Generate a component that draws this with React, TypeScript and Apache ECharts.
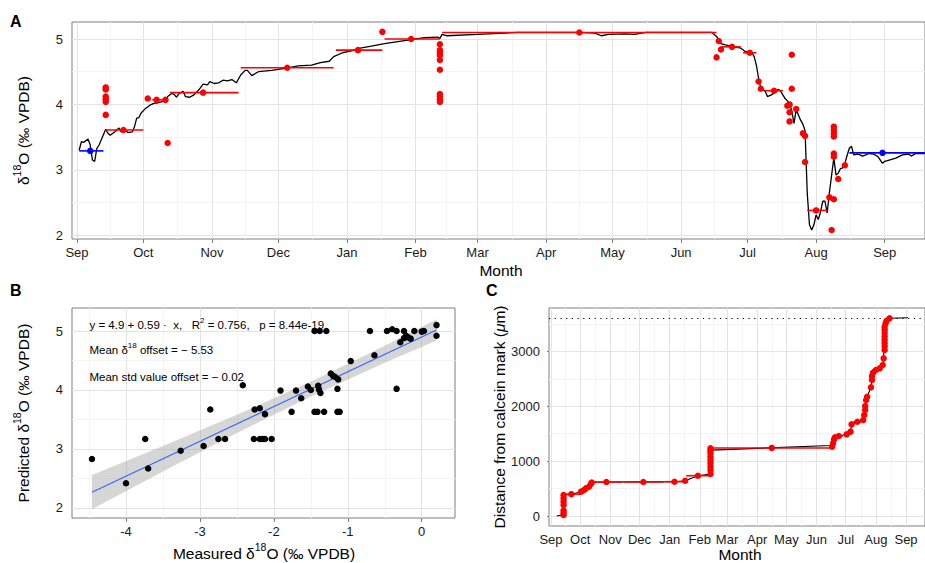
import React, { useEffect, useRef } from 'react';
import * as echarts from 'echarts';

// ---------- Panel A: predicted daily δ18O and measured samples ----------
const predictedD18O: [string, number][] = [
  ['2012-09-02', 3.30], ['2012-09-03', 3.43], ['2012-09-04', 3.42], ['2012-09-06', 3.47], ['2012-09-07', 3.38],
  ['2012-09-08', 3.15], ['2012-09-09', 3.13], ['2012-09-10', 3.33], ['2012-09-11', 3.38], ['2012-09-12', 3.46],
  ['2012-09-14', 3.62], ['2012-09-15', 3.56], ['2012-09-16', 3.53], ['2012-09-18', 3.58], ['2012-09-20', 3.64],
  ['2012-09-21', 3.58], ['2012-09-23', 3.60], ['2012-09-24', 3.57], ['2012-09-26', 3.58], ['2012-09-27', 3.66],
  ['2012-09-28', 3.79], ['2012-09-29', 3.80], ['2012-09-30', 3.87], ['2012-10-02', 3.94], ['2012-10-03', 3.96],
  ['2012-10-04', 3.99], ['2012-10-06', 4.02], ['2012-10-07', 4.02], ['2012-10-09', 4.04], ['2012-10-11', 4.05],
  ['2012-10-12', 4.12], ['2012-10-14', 4.17], ['2012-10-15', 4.15], ['2012-10-16', 4.11], ['2012-10-17', 4.16],
  ['2012-10-19', 4.20], ['2012-10-20', 4.12], ['2012-10-22', 4.11], ['2012-10-24', 4.15], ['2012-10-26', 4.22],
  ['2012-10-28', 4.31], ['2012-10-30', 4.30], ['2012-10-31', 4.35], ['2012-11-02', 4.32], ['2012-11-04', 4.33],
  ['2012-11-06', 4.37], ['2012-11-08', 4.36], ['2012-11-10', 4.38], ['2012-11-12', 4.33], ['2012-11-14', 4.45],
  ['2012-11-16', 4.52], ['2012-11-17', 4.52], ['2012-11-19', 4.44], ['2012-11-22', 4.50], ['2012-11-28', 4.52],
  ['2012-12-04', 4.55], ['2012-12-10', 4.59], ['2012-12-16', 4.60], ['2012-12-20', 4.64], ['2012-12-24', 4.66],
  ['2012-12-26', 4.73], ['2012-12-30', 4.79], ['2013-01-03', 4.82], ['2013-01-07', 4.86], ['2013-01-12', 4.89],
  ['2013-01-18', 4.93], ['2013-01-24', 4.96], ['2013-01-30', 4.99], ['2013-02-05', 5.02], ['2013-02-11', 5.03],
  ['2013-02-12', 5.01], ['2013-02-13', 5.07], ['2013-02-15', 5.05], ['2013-03-01', 5.07], ['2013-03-19', 5.10],
  ['2013-04-03', 5.10], ['2013-04-16', 5.10], ['2013-04-23', 5.09], ['2013-04-26', 5.05], ['2013-04-29', 5.07],
  ['2013-05-07', 5.08], ['2013-05-11', 5.07], ['2013-05-16', 5.10], ['2013-05-31', 5.10], ['2013-06-15', 5.10],
  ['2013-06-17', 5.04], ['2013-06-19', 4.93], ['2013-06-21', 4.91], ['2013-06-25', 4.88], ['2013-06-28', 4.86],
  ['2013-06-30', 4.81], ['2013-07-02', 4.78], ['2013-07-03', 4.79], ['2013-07-04', 4.73], ['2013-07-05', 4.60],
  ['2013-07-06', 4.40], ['2013-07-07', 4.25], ['2013-07-09', 4.20], ['2013-07-10', 4.12], ['2013-07-12', 4.15],
  ['2013-07-15', 4.23], ['2013-07-16', 4.20], ['2013-07-18', 4.09], ['2013-07-20', 4.02], ['2013-07-21', 3.90],
  ['2013-07-22', 3.71], ['2013-07-23', 3.92], ['2013-07-25', 3.76], ['2013-07-26', 3.70], ['2013-07-27', 3.60],
  ['2013-07-28', 2.64], ['2013-07-29', 2.16], ['2013-07-30', 2.08], ['2013-07-31', 2.16], ['2013-08-01', 2.31],
  ['2013-08-02', 2.24], ['2013-08-03', 2.36], ['2013-08-04', 2.52], ['2013-08-05', 2.52], ['2013-08-06', 2.34],
  ['2013-08-07', 2.65], ['2013-08-08', 2.92], ['2013-08-09', 3.18], ['2013-08-10', 2.92], ['2013-08-11', 2.95],
  ['2013-08-12', 3.02], ['2013-08-13', 3.03], ['2013-08-14', 3.10], ['2013-08-15', 3.22], ['2013-08-16', 3.33],
  ['2013-08-17', 3.36], ['2013-08-18', 3.23], ['2013-08-20', 3.24], ['2013-08-22', 3.21], ['2013-08-25', 3.25],
  ['2013-08-27', 3.24], ['2013-08-29', 3.20], ['2013-08-31', 3.10], ['2013-09-01', 3.13], ['2013-09-03', 3.15],
  ['2013-09-06', 3.18], ['2013-09-09', 3.23], ['2013-09-12', 3.24], ['2013-09-13', 3.21], ['2013-09-15', 3.25],
  ['2013-09-19', 3.25],
];

// Samples that integrate a date range: start, end, assigned date, δ18O, distance from calcein mark
const rangeStart = ['2012-09-14', '2012-10-05', '2012-10-13', '2012-11-14', '2012-12-27', '2013-01-18',
  '2013-02-13', '2013-06-19', '2013-06-29', '2013-07-09', '2013-07-22', '2013-07-28'];
const rangeEnd = ['2012-10-01', '2012-10-11', '2012-11-13', '2012-12-26', '2013-01-17', '2013-02-12',
  '2013-06-17', '2013-06-28', '2013-07-05', '2013-07-17', '2013-07-24', '2013-08-06'];
const rangeDate = ['2012-09-22', '2012-10-07', '2012-10-28', '2012-12-05', '2013-01-06', '2013-01-30',
  '2013-04-16', '2013-06-24', '2013-07-02', '2013-07-13', '2013-07-23', '2013-08-01'];
const rangeD18O = [3.61, 4.07, 4.18, 4.56, 4.83, 5.00, 5.10, 4.88, 4.79, 4.21, 3.93, 2.38];
const rangeDistance = [398, 504, 619, 619, 625, 734, 1240, 1457, 1488, 1718, 2173, 2659];

// Reference periods (blue)
const refStart = ['2012-09-02', '2013-08-16'];
const refEnd = ['2012-09-13', '2013-09-20'];
const refDate = ['2012-09-07', '2013-08-31'];
const refD18O = [3.29, 3.26];

// Individually dated samples
const isotopeSamples: [string, number][] = [
  ['2012-09-14', 4.26], ['2012-09-14', 4.23], ['2012-09-14', 4.12], ['2012-09-14', 4.08], ['2012-09-14', 4.04],
  ['2012-09-14', 3.84], ['2012-10-03', 4.09], ['2012-10-11', 4.07], ['2012-10-12', 3.41], ['2013-01-17', 5.11],
  ['2013-02-12', 4.92], ['2013-02-12', 4.83], ['2013-02-12', 4.79], ['2013-02-12', 4.75], ['2013-02-12', 4.68],
  ['2013-02-12', 4.53], ['2013-02-12', 4.16], ['2013-02-12', 4.12], ['2013-02-12', 4.08], ['2013-02-12', 4.04],
  ['2013-06-17', 4.72], ['2013-06-18', 4.97], ['2013-06-19', 4.84], ['2013-07-06', 4.35], ['2013-07-07', 4.24],
  ['2013-07-19', 3.98], ['2013-07-20', 4.00], ['2013-07-20', 3.88], ['2013-07-20', 3.74], ['2013-07-21', 4.76],
  ['2013-07-21', 4.24], ['2013-07-26', 3.56], ['2013-07-27', 3.52], ['2013-07-27', 3.12], ['2013-08-07', 2.58],
  ['2013-08-08', 2.08], ['2013-08-09', 2.55], ['2013-08-09', 3.66], ['2013-08-09', 3.61], ['2013-08-09', 3.56],
  ['2013-08-09', 3.51], ['2013-08-09', 3.25], ['2013-08-09', 3.20], ['2013-08-11', 2.86], ['2013-08-14', 3.07],
];

// ---------- Panel B: measured vs predicted ----------
const measuredB = [-4.46, -4.00, -3.74, -3.70, -3.26, -2.95, -2.86, -2.75, -2.66, -2.42, -2.27, -2.26, -2.19,
  -2.19, -2.15, -2.12, -2.12, -2.03, -1.91, -1.76, -1.70, -1.63, -1.54, -1.50, -1.45, -1.38, -1.29, -1.45, -1.41,
  -1.40, -1.39, -1.37, -1.32, -1.23, -1.20, -1.17, -1.13, -1.14, -1.14, -1.11, -0.96, -0.70, -0.64, -0.47, -0.40,
  -0.34, -0.34, -0.29, -0.24, -0.24, -0.21, -0.18, -0.15, -0.10, 0.00, 0.03, 0.20, 0.20];
const predictedB = [2.83, 2.42, 3.17, 2.67, 2.97, 3.05, 3.67, 3.17, 3.17, 4.08, 3.17, 3.67, 3.69, 3.17, 3.17,
  3.17, 3.59, 3.17, 3.99, 3.63, 3.99, 3.86, 4.06, 4.00, 5.00, 5.00, 5.00, 3.63, 3.63, 4.07, 4.01, 3.95, 3.63,
  4.28, 4.24, 4.22, 4.18, 4.02, 3.63, 3.63, 4.49, 5.00, 4.59, 5.00, 5.03, 5.00, 4.02, 4.81, 5.00, 4.88, 4.92,
  4.89, 4.87, 5.00, 4.99, 5.00, 5.10, 4.92];
const fitIntercept = 4.9;
const fitSlope = 0.59;
const bandX = [-4.46, -3.5, -2.5, -1.5, -0.5, 0.2];
const bandLower = [1.98, 2.62, 3.27, 3.89, 4.46, 4.84];
const bandUpper = [2.56, 3.05, 3.58, 4.14, 4.75, 5.20];

// ---------- Panel C: distance from calcein mark ----------
const growthModel: [string, number][] = [
  ['2012-09-07', 0], ['2012-09-13', 20], ['2012-09-14', 380], ['2012-09-22', 398], ['2012-10-02', 443],
  ['2012-10-05', 474], ['2012-10-08', 504], ['2012-10-10', 534], ['2012-10-12', 585], ['2012-10-14', 615],
  ['2012-10-28', 619], ['2012-12-05', 621], ['2013-01-06', 625], ['2013-01-17', 643], ['2013-01-30', 734],
  ['2013-02-12', 765], ['2013-02-13', 1200], ['2013-06-16', 1285], ['2013-06-18', 1324], ['2013-06-20', 1433],
  ['2013-06-25', 1457], ['2013-07-02', 1488], ['2013-07-06', 1536], ['2013-07-07', 1670], ['2013-07-13', 1718],
  ['2013-07-19', 1749], ['2013-07-22', 2113], ['2013-07-23', 2173], ['2013-07-27', 2344], ['2013-07-29', 2610],
  ['2013-08-01', 2659], ['2013-08-05', 2690], ['2013-08-08', 2750], ['2013-08-09', 2872], ['2013-08-10', 3448],
  ['2013-08-11', 3510], ['2013-08-12', 3557], ['2013-08-15', 3601], ['2013-09-03', 3612],
];
const distanceSamples: [string, number][] = [
  ['2012-09-14', 20], ['2012-09-14', 60], ['2012-09-14', 100], ['2012-09-14', 200], ['2012-09-14', 260],
  ['2012-09-14', 320], ['2012-09-14', 380], ['2012-10-02', 443], ['2012-10-05', 474], ['2012-10-10', 534],
  ['2012-10-12', 585], ['2012-10-13', 610], ['2013-01-17', 643],
  ['2013-02-12', 765], ['2013-02-12', 838], ['2013-02-12', 898], ['2013-02-12', 960], ['2013-02-12', 1020],
  ['2013-02-12', 1080], ['2013-02-12', 1142], ['2013-02-12', 1190], ['2013-02-12', 1233],
  ['2013-06-17', 1262], ['2013-06-18', 1324], ['2013-06-19', 1397], ['2013-06-20', 1433], ['2013-07-06', 1536],
  ['2013-07-07', 1670], ['2013-07-19', 1749], ['2013-07-20', 1840], ['2013-07-21', 1931], ['2013-07-21', 2004],
  ['2013-07-22', 2113], ['2013-07-27', 2344], ['2013-07-28', 2477], ['2013-07-28', 2550], ['2013-07-29', 2610],
  ['2013-08-05', 2690], ['2013-08-08', 2750], ['2013-08-09', 2872],
  ['2013-08-10', 3024], ['2013-08-10', 3090], ['2013-08-10', 3150], ['2013-08-10', 3210], ['2013-08-10', 3270],
  ['2013-08-10', 3330], ['2013-08-10', 3390], ['2013-08-10', 3448], ['2013-08-11', 3510], ['2013-08-12', 3557],
  ['2013-08-15', 3601],
];
const maxDistance = 3600;

// ---------- Axis breaks ----------
const monthStarts = ['2012-09-01', '2012-10-01', '2012-11-01', '2012-12-01', '2013-01-01', '2013-02-01',
  '2013-03-01', '2013-04-01', '2013-05-01', '2013-06-01', '2013-07-01', '2013-08-01', '2013-09-01'];
const monthNames = ['Sep', 'Oct', 'Nov', 'Dec', 'Jan', 'Feb', 'Mar', 'Apr', 'May', 'Jun', 'Jul', 'Aug', 'Sep'];
const d18OTicks = [2, 3, 4, 5];
const d18OMinor = [2.5, 3.5, 4.5];
const measuredTicks = [-4, -3, -2, -1, 0];
const measuredMinor = [-4.5, -3.5, -2.5, -1.5, -0.5];
const distanceTicks = [0, 1000, 2000, 3000];
const distanceMinor = [500, 1500, 2500, 3500];

const FONT = '"Liberation Sans", Arial, Helvetica, sans-serif';
const START = Date.UTC(2012, 8, 1);
const dayOf = (d: string) => Math.round((Date.parse(d + 'T00:00:00Z') - START) / 86400000);
const monthDays = monthStarts.map(dayOf);
const midMonthDays = monthDays.slice(1).map((d, i) => (d + monthDays[i]) / 2);
const monthLabel = (v: number) => {
  const i = monthDays.indexOf(Math.round(v));
  return i < 0 ? '' : monthNames[i];
};

const MAJOR = '#e3e3e3';
const MINOR = '#f4f4f4';
const BORDER = '#7f7f7f';
const TICK_TEXT = '#1a1a1a';

function gridLines(idx: number, vMaj: number[], vMin: number[], hMaj: number[], hMin: number[], extra: any[] = []) {
  const v = (vals: number[], color: string) => vals.map((x) => ({ xAxis: x, lineStyle: { color, width: 1, type: 'solid' } }));
  const h = (vals: number[], color: string) => vals.map((y) => ({ yAxis: y, lineStyle: { color, width: 1, type: 'solid' } }));
  return {
    type: 'line', xAxisIndex: idx, yAxisIndex: idx, data: [], silent: true, z: 1,
    markLine: {
      silent: true, symbol: ['none', 'none'], animation: false, label: { show: false },
      emphasis: { disabled: true },
      data: [...v(vMin, MINOR), ...h(hMin, MINOR), ...v(vMaj, MAJOR), ...h(hMaj, MAJOR), ...extra],
    },
  };
}

function segmentSeries(idx: number, starts: string[], ends: string[], values: number[], color: string, z: number) {
  return {
    type: 'custom', xAxisIndex: idx, yAxisIndex: idx, z, silent: true,
    data: starts.map((s, i) => [dayOf(s), dayOf(ends[i]), values[i]]),
    encode: { x: [0, 1], y: 2 },
    renderItem: (_p: any, api: any) => {
      const a = api.coord([api.value(0), api.value(2)]);
      const b = api.coord([api.value(1), api.value(2)]);
      return { type: 'line', shape: { x1: a[0], y1: a[1], x2: b[0], y2: b[1] }, style: { stroke: color, lineWidth: 1.6 } };
    },
  };
}

function timeAxis(idx: number, min: number, max: number) {
  return {
    type: 'value', gridIndex: idx, min, max,
    axisLine: { show: false }, splitLine: { show: false },
    axisTick: { show: true, length: 4, lineStyle: { color: BORDER }, customValues: monthDays },
    axisLabel: { customValues: monthDays, formatter: monthLabel, color: TICK_TEXT, fontSize: 13, fontFamily: FONT, margin: 7 },
  };
}

function valueAxis(idx: number, min: number, max: number, ticks: number[], margin: number) {
  return {
    type: 'value', gridIndex: idx, min, max,
    axisLine: { show: false }, splitLine: { show: false },
    axisTick: { show: true, length: 4, lineStyle: { color: BORDER }, customValues: ticks },
    axisLabel: { customValues: ticks, formatter: (v: number) => String(v), color: TICK_TEXT, fontSize: 13, fontFamily: FONT, margin },
  };
}

const titleRich = {
  t: { fontSize: 15.5, fontFamily: FONT, fill: '#000', lineHeight: 24 },
  s: { fontSize: 10.5, fontFamily: FONT, fill: '#000', lineHeight: 10, verticalAlign: 'top' },
  i: { fontSize: 15.5, fontFamily: FONT, fill: '#000', lineHeight: 24, fontStyle: 'italic' },
};
const noteRich = {
  t: { fontSize: 11.5, fontFamily: FONT, fill: '#000', lineHeight: 18 },
  s: { fontSize: 8, fontFamily: FONT, fill: '#000', lineHeight: 8, verticalAlign: 'top' },
};

function title(x: number, y: number, text: string, rotate = false, rich: any = titleRich) {
  return {
    type: 'text', x, y, z: 100, rotation: rotate ? Math.PI / 2 : 0, silent: true,
    style: { text, rich, align: 'center', verticalAlign: 'middle' },
  };
}
function note(x: number, y: number, text: string) {
  return { type: 'text', x, y, z: 100, silent: true, style: { text, rich: noteRich, align: 'left', verticalAlign: 'middle' } };
}
function letter(x: number, y: number, text: string) {
  return {
    type: 'text', x, y, z: 100, silent: true,
    style: { text, fontSize: 16, fontWeight: 'bold', fontFamily: FONT, fill: '#000', align: 'left', verticalAlign: 'middle' },
  };
}

function buildOption() {
  const dAxisA = timeAxis(0, -2.24, 383.2);
  const dAxisC = timeAxis(2, -2.0, 384.5);
  const fitLineX = [Math.min(...measuredB), Math.max(...measuredB)];
  const d18OLabel = '{t|δ}{s|18}{t|O (‰ VPDB)}';

  return {
    animation: false,
    backgroundColor: '#fff',
    grid: [
      { left: 72, top: 22, width: 860, height: 217, show: true, borderColor: BORDER, borderWidth: 1, backgroundColor: '#fff' },
      { left: 72, top: 308, width: 383, height: 210, show: true, borderColor: BORDER, borderWidth: 1, backgroundColor: '#fff' },
      { left: 549, top: 308, width: 383, height: 218, show: true, borderColor: BORDER, borderWidth: 1, backgroundColor: '#fff' },
    ],
    xAxis: [
      dAxisA,
      valueAxis(1, -4.73, 0.45, measuredTicks, 7),
      dAxisC,
    ],
    yAxis: [
      valueAxis(0, 1.943, 5.26, d18OTicks, 9),
      valueAxis(1, 1.83, 5.39, d18OTicks, 9),
      valueAxis(2, -182, 3789, distanceTicks, 9),
    ],
    series: [
      // Panel A
      gridLines(0, monthDays, midMonthDays, d18OTicks, d18OMinor),
      {
        type: 'line', xAxisIndex: 0, yAxisIndex: 0, z: 6, silent: true, showSymbol: false, symbol: 'none',
        data: predictedD18O.map(([d, v]) => [dayOf(d), v]),
        lineStyle: { color: '#000', width: 1.3 },
      },
      segmentSeries(0, rangeStart, rangeEnd, rangeD18O, '#ff0000', 7),
      segmentSeries(0, refStart, refEnd, refD18O, '#0000ff', 7),
      {
        type: 'scatter', xAxisIndex: 0, yAxisIndex: 0, z: 8, silent: true, symbolSize: 6.5,
        data: [...rangeDate.map((d, i) => [dayOf(d), rangeD18O[i]]), ...isotopeSamples.map(([d, v]) => [dayOf(d), v])],
        itemStyle: { color: '#ff0000', opacity: 1 },
      },
      {
        type: 'scatter', xAxisIndex: 0, yAxisIndex: 0, z: 8, silent: true, symbolSize: 6.5,
        data: refDate.map((d, i) => [dayOf(d), refD18O[i]]),
        itemStyle: { color: '#0000ff', opacity: 1 },
      },
      // Panel B
      gridLines(1, measuredTicks, measuredMinor, d18OTicks, d18OMinor),
      {
        type: 'custom', xAxisIndex: 1, yAxisIndex: 1, z: 6, silent: true,
        data: [[bandX[0], bandLower[0]]],
        renderItem: (_p: any, api: any) => {
          const pts: number[][] = [];
          bandX.forEach((x, i) => pts.push(api.coord([x, bandUpper[i]])));
          for (let i = bandX.length - 1; i >= 0; i--) pts.push(api.coord([bandX[i], bandLower[i]]));
          return { type: 'polygon', shape: { points: pts }, style: { fill: 'rgba(153,153,153,0.4)' } };
        },
      },
      {
        type: 'line', xAxisIndex: 1, yAxisIndex: 1, z: 7, silent: true, showSymbol: false, symbol: 'none',
        data: fitLineX.map((x) => [x, fitIntercept + fitSlope * x]),
        lineStyle: { color: '#3366ff', width: 1.1 },
      },
      {
        type: 'scatter', xAxisIndex: 1, yAxisIndex: 1, z: 8, silent: true, symbolSize: 6.5,
        data: measuredB.map((x, i) => [x, predictedB[i]]),
        itemStyle: { color: '#000', opacity: 1 },
      },
      // Panel C
      gridLines(2, monthDays, midMonthDays, distanceTicks, distanceMinor, [
        { yAxis: maxDistance, lineStyle: { color: '#000', width: 1.2, type: [1.2, 4.5] } },
      ]),
      {
        type: 'line', xAxisIndex: 2, yAxisIndex: 2, z: 6, silent: true, showSymbol: false, symbol: 'none',
        data: growthModel.map(([d, v]) => [dayOf(d), v]),
        lineStyle: { color: '#000', width: 1.1 },
      },
      segmentSeries(2, rangeStart, rangeEnd, rangeDistance, '#ff0000', 7),
      {
        type: 'scatter', xAxisIndex: 2, yAxisIndex: 2, z: 8, silent: true, symbolSize: 6.5,
        data: [...rangeDate.map((d, i) => [dayOf(d), rangeDistance[i]]), ...distanceSamples.map(([d, v]) => [dayOf(d), v])],
        itemStyle: { color: '#ff0000', opacity: 1 },
      },
    ],
    graphic: [
      letter(10, 21, 'A'),
      letter(10, 290, 'B'),
      letter(486, 290, 'C'),
      title(23, 130.5, d18OLabel, true),
      title(501, 270, '{t|Month}'),
      title(23, 413, '{t|Predicted δ}{s|18}{t|O (‰ VPDB)}', true),
      title(264, 553, '{t|Measured δ}{s|18}{t|O (‰ VPDB)}'),
      title(499, 417, '{t|Distance from calcein mark (}{i|μ}{t|m)}', true),
      title(740, 554, '{t|Month}'),
      note(89.5, 325, '{t|y = 4.9 + 0.59 ·  x,   R}{s|2}{t| = 0.756,   p = 8.44e-19}'),
      note(89.5, 350, '{t|Mean δ}{s|18}{t| offset = − 5.53}'),
      note(89.5, 377, '{t|Mean std value offset = − 0.02}'),
    ],
  };
}

export default function App() {
  const ref = useRef<HTMLDivElement>(null);
  useEffect(() => {
    if (!ref.current) return;
    const chart = echarts.init(ref.current, undefined, { renderer: 'svg' });
    chart.setOption(buildOption() as any);
    return () => chart.dispose();
  }, []);
  return <div ref={ref} style={{ position: 'absolute', left: 0, top: 0, width: 925, height: 563, background: '#fff' }} />;
}
